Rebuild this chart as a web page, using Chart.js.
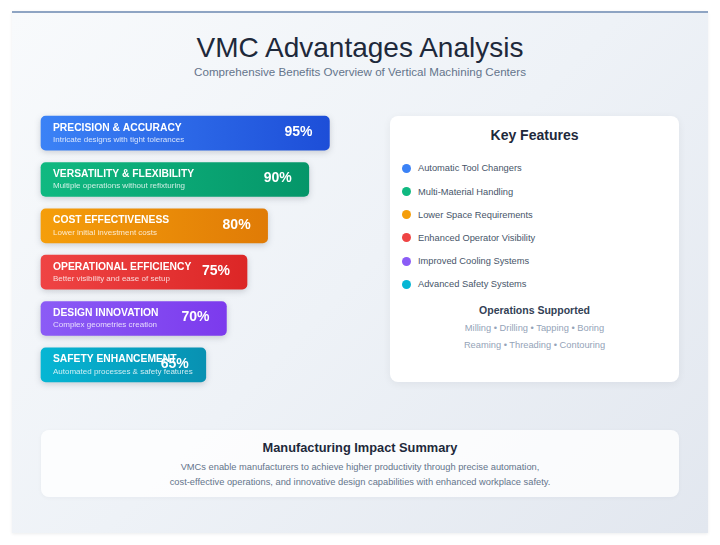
<!DOCTYPE html>
<html>
<head>
<meta charset="utf-8">
<title>VMC Advantages Analysis</title>
<script src="https://cdn.jsdelivr.net/npm/chart.js@4.4.0/dist/chart.umd.min.js"></script>
<style>
  body { margin: 0; width: 720px; height: 545px; background: #ffffff; font-family: "Liberation Sans", Arial, sans-serif; position: relative; overflow: hidden; }
  .card { position: absolute; left: 12px; top: 11px; width: 696px; height: 520px; border-top: 2px solid #8ea4c3;
          background: linear-gradient(135deg, #f8fafc 0%, #eef2f7 50%, #e2e7ef 100%); box-shadow: 0 1px 3px rgba(15,23,42,0.08); }
  .abs { position: absolute; }
  .main-title { left: 0; width: 720px; top: 32px; line-height: 32px; text-align: center; font-size: 28px; color: #1e293b; }
  .main-sub { left: 0; width: 720px; top: 65px; line-height: 14px; text-align: center; font-size: 11.6px; color: #64748b; }
  .panel { left: 390px; top: 116px; width: 289px; height: 266px; background: #ffffff; border-radius: 8px; box-shadow: 0 2px 8px rgba(15,23,42,0.06); }
  .panel h3 { position: absolute; margin: 0; left: 0; width: 100%; top: 10px; line-height: 18px; text-align: center; font-size: 14px; color: #1e293b; }
  .feat { position: absolute; left: 0; height: 16px; line-height: 16px; font-size: 9.3px; color: #475569; }
  .dot { position: absolute; left: 11.5px; top: 3.5px; width: 9px; height: 9px; border-radius: 50%; }
  .feat span { position: absolute; left: 28px; white-space: nowrap; }
  .ops-title { left: 0; width: 100%; top: 187px; line-height: 14px; text-align: center; font-size: 10.5px; font-weight: bold; color: #334155; }
  .ops-line { left: 0; width: 100%; line-height: 14px; text-align: center; font-size: 9.3px; color: #94a3b8; }
  .summary { left: 41px; top: 430px; width: 638px; height: 67px; background: rgba(255,255,255,0.8); border-radius: 8px; box-shadow: 0 1px 4px rgba(15,23,42,0.04); }
  .sum-title { left: 0; width: 100%; top: 10px; line-height: 16px; text-align: center; font-size: 12.8px; font-weight: bold; color: #1e293b; }
  .sum-line { left: 0; width: 100%; line-height: 14px; text-align: center; font-size: 9.3px; color: #64748b; }
  #advChart { position: absolute; left: 30px; top: 100px; }
</style>
</head>
<body>
<div class="card"></div>
<div class="abs main-title">VMC Advantages Analysis</div>
<div class="abs main-sub">Comprehensive Benefits Overview of Vertical Machining Centers</div>

<canvas id="advChart" width="340" height="300"></canvas>

<div class="abs panel" id="key-panel">
  <h3>Key Features</h3>
</div>

<div class="abs summary" id="summary"></div>

<script>
// chart data
const advantage_names = ['PRECISION & ACCURACY', 'VERSATILITY & FLEXIBILITY', 'COST EFFECTIVENESS',
    'OPERATIONAL EFFICIENCY', 'DESIGN INNOVATION', 'SAFETY ENHANCEMENT']
const advantage_notes = ['Intricate designs with tight tolerances', 'Multiple operations without refixturing',
    'Lower initial investment costs', 'Better visibility and ease of setup',
    'Complex geometries creation', 'Automated processes & safety features']
const advantage_scores = [95, 90, 80, 75, 70, 65]
const score_axis = [25, 100]

const key_features = ['Automatic Tool Changers', 'Multi-Material Handling', 'Lower Space Requirements',
    'Enhanced Operator Visibility', 'Improved Cooling Systems', 'Advanced Safety Systems']
const operations = [['Milling', 'Drilling', 'Tapping', 'Boring'], ['Reaming', 'Threading', 'Contouring']]
const summary_title = 'Manufacturing Impact Summary'
const summary_lines = ['VMCs enable manufacturers to achieve higher productivity through precise automation,',
    'cost-effective operations, and innovative design capabilities with enhanced workplace safety.']

// styles
const color_light = ['#3b82f6', '#10b981', '#f59e0b', '#ef4444', '#8b5cf6', '#06b6d4']
const color_dark = ['#1d4ed8', '#059669', '#e07b06', '#dc2626', '#7c3aed', '#0891b2']


function barFill(context) {
    const chart = context.chart
    const area = chart.chartArea
    const i = context.dataIndex
    if (!area) return color_light[i]
    const x1 = chart.scales.x.getPixelForValue(context.raw)
    const g = chart.ctx.createLinearGradient(area.left, 0, x1, 0)
    g.addColorStop(0, color_light[i])
    g.addColorStop(1, color_dark[i])
    return g
}

const barText = {
    id: 'barText',
    beforeDatasetsDraw(chart) {
        const ctx = chart.ctx
        ctx.save()
        ctx.shadowColor = 'rgba(15,23,42,0.18)'
        ctx.shadowBlur = 6
        ctx.shadowOffsetY = 2
    },
    afterDatasetsDraw(chart) {
        const ctx = chart.ctx
        ctx.restore()
        const meta = chart.getDatasetMeta(0)
        ctx.save()
        meta.data.forEach(function (bar, i) {
            const left = bar.base
            const right = bar.x
            const cy = bar.y
            ctx.fillStyle = '#ffffff'
            ctx.textBaseline = 'middle'
            ctx.textAlign = 'left'
            ctx.font = 'bold 10.3px "Liberation Sans", Arial, sans-serif'
            ctx.fillText(advantage_names[i], left + 12, cy - 5.5)
            ctx.globalAlpha = 0.8
            ctx.font = '8px "Liberation Sans", Arial, sans-serif'
            ctx.fillText(advantage_notes[i], left + 12, cy + 6.5)
            ctx.globalAlpha = 1
            ctx.textAlign = 'right'
            ctx.font = 'bold 14px "Liberation Sans", Arial, sans-serif'
            ctx.fillText(advantage_scores[i] + '%', right - 17, cy - 1)
        })
        ctx.restore()
    }
}

function create_bar_chart(targetId) {
    const ctx = document.getElementById(targetId)
    return new Chart(ctx, {
        type: 'bar',
        data: {
            labels: advantage_names,
            datasets: [{
                data: advantage_scores,
                base: score_axis[0],
                backgroundColor: barFill,
                borderRadius: 5,
                borderSkipped: false,
                barThickness: 34,
                clip: false
            }]
        },
        options: {
            indexAxis: 'y',
            responsive: false,
            animation: false,
            layout: { padding: { left: 11, top: 10, right: 20, bottom: 12 } },
            scales: {
                x: { display: false, min: score_axis[0], max: score_axis[1] },
                y: { display: false }
            },
            plugins: { legend: { display: false }, tooltip: { enabled: false } }
        },
        plugins: [barText]
    })
}

function build_panel() {
    const panel = document.getElementById('key-panel')
    for (let i = 0; i < key_features.length; i++) {
        let row = document.createElement('div')
        row.className = 'feat'
        row.style.top = (52.3 - 8 + i * 23.2) + 'px'
        let dot = document.createElement('div')
        dot.className = 'dot'
        dot.style.background = color_light[i]
        let label = document.createElement('span')
        label.innerText = key_features[i]
        row.appendChild(dot)
        row.appendChild(label)
        panel.appendChild(row)
    }
    let opsTitle = document.createElement('div')
    opsTitle.className = 'abs ops-title'
    opsTitle.innerText = 'Operations Supported'
    panel.appendChild(opsTitle)
    for (let j = 0; j < operations.length; j++) {
        let line = document.createElement('div')
        line.className = 'abs ops-line'
        line.style.top = (211.7 - 7 + j * 17.3) + 'px'
        line.innerText = operations[j].join(' \u2022 ')
        panel.appendChild(line)
    }

    const summary = document.getElementById('summary')
    let st = document.createElement('div')
    st.className = 'abs sum-title'
    st.innerText = summary_title
    summary.appendChild(st)
    for (let k = 0; k < summary_lines.length; k++) {
        let line = document.createElement('div')
        line.className = 'abs sum-line'
        line.style.top = (36.5 - 7 + k * 15) + 'px'
        line.innerText = summary_lines[k]
        summary.appendChild(line)
    }
}

build_panel()
create_bar_chart('advChart')
</script>
</body>
</html>
